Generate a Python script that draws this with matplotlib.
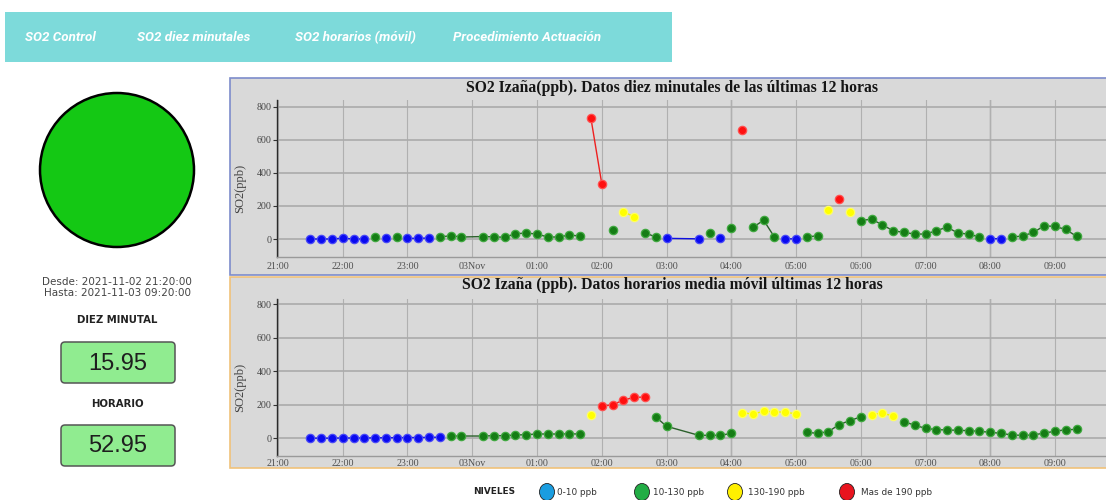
import numpy as np
import pandas as pd
import matplotlib
matplotlib.use("Agg")
import matplotlib.pyplot as plt
import matplotlib.dates as mdates
from matplotlib.patches import Rectangle, Circle, Ellipse, FancyBboxPatch
from matplotlib.ticker import FuncFormatter

plt.rcParams['font.family'] = ['Liberation Serif', 'DejaVu Serif']

# ---------------------------------------------------------------- data
nav_items = ["SO2 Control", "SO2 diez minutales", "SO2 horarios (móvil)", "Procedimiento Actuación"]
title_10min = "SO2 Izaña(ppb). Datos diez minutales de las últimas 12 horas"
title_hourly = "SO2 Izaña (ppb). Datos horarios media móvil últimas 12 horas"
period_from = "Desde: 2021-11-02 21:20:00"
period_to = "Hasta: 2021-11-03 09:20:00"

times = pd.date_range("2021-11-02 21:30", "2021-11-03 09:20", freq="10min")

# ten-minute SO2 (ppb); None = no record
so2_10min = [
    0, 0, 0, 5, 0, 0,              # 21:30 - 22:20
    11, 6, 11, 4, 4, 6,            # 22:30 - 23:20
    12, 20, 12, None, 15, 13,      # 23:30 - 00:20
    10.5, 32, 36, 30, 12, 12,      # 00:30 - 01:20
    24, 18, 730, 336, 52, 165,     # 01:30 - 02:20
    135, 38, 12, 4, None, None,    # 02:30 - 03:20
    1, 34, 4, 64, 660, 70,         # 03:30 - 04:20
    114, 12, 1, 1, 12, 20,         # 04:30 - 05:20
    176, 240, 162, 112, 120, 86,   # 05:30 - 06:20
    50, 40, 30, 30, 50, 72,        # 06:30 - 07:20
    36, 30, 12, 2, 2, 12,          # 07:30 - 08:20
    18, 40, 80, 76, 58, 15.95,     # 08:30 - 09:20
]

# hourly moving-average SO2 (ppb); None = no record
so2_hourly = [
    1, 1, 1, 2, 2, 2,              # 21:30 - 22:20
    3, 4, 4, 5, 5, 6,              # 22:30 - 23:20
    7, 14, 14, None, 14, 16,       # 23:30 - 00:20
    16, 20, 22, 26, 26, 26,        # 00:30 - 01:20
    27, 26, 140, 192, 200, 228,    # 01:30 - 02:20
    244, 246, 128, 72, None, None, # 02:30 - 03:20
    18, 18, 18, 30, 154, 144,      # 03:30 - 04:20
    162, 158, 156, 146, 36, 30,    # 04:30 - 05:20
    40, 82, 106, 128, 142, 150,    # 05:30 - 06:20
    133, 100, 78, 60, 52, 50,      # 06:30 - 07:20
    48, 46, 42, 36, 30, 20,        # 07:30 - 08:20
    18, 20, 32, 42, 52, 52.95,     # 08:30 - 09:20
]

level_bounds = [10, 130, 190]
level_labels = ["0-10 ppb", "10-130 ppb", "130-190 ppb", "Mas de 190 ppb"]
last_10min = "15.95"
last_hourly = "52.95"

# ---------------------------------------------------------------- styles
W, H = 1106, 500
dot_face = ["#0a0af0", "#157d15", "#ffff00", "#ff1010"]
dot_edge = ["#4848f8", "#40a840", "#ffff60", "#ff5050"]
line_col = ["#1010e0", "#2c602c", "#f0f000", "#ee2020"]
legend_face = ["#1a9de0", "#22ad45", "#fff000", "#e8141e"]
panel_gray = "#d9d9d9"

fig = plt.figure(figsize=(W / 100, H / 100), dpi=100)
fig.patch.set_facecolor("white")

def fx(x):
    return x / W

def fy(y):
    return 1 - y / H

# full-figure canvas in pixel units for the page furniture
bg = fig.add_axes([0, 0, 1, 1], zorder=0)
bg.set_xlim(0, W)
bg.set_ylim(H, 0)
bg.axis("off")

# navigation bar
bg.add_patch(Rectangle((5, 12), 667, 50, fc="#7ddada", ec="none"))
for label, x in zip(nav_items, [25, 137, 295, 453]):
    bg.text(x, 37.5, label, color="white", family="Roboto", weight="bold",
            style="italic", fontsize=9.6, ha="left", va="center")

# status light
bg.add_patch(Circle((117, 170), 77, fc="#14c814", ec="black", lw=1.8))
bg.text(117, 282, period_from, family="DejaVu Sans", fontsize=7.5, color="#444444",
        ha="center", va="center")
bg.text(117, 293.5, period_to, family="DejaVu Sans", fontsize=7.5, color="#444444",
        ha="center", va="center")
bg.text(117, 320, "DIEZ MINUTAL", family="DejaVu Sans", weight="bold", fontsize=7.3,
        color="#222222", ha="center", va="center")
bg.text(117, 404, "HORARIO", family="DejaVu Sans", weight="bold", fontsize=7.3,
        color="#222222", ha="center", va="center")
for y0, txt in [(342, last_10min), (425, last_hourly)]:
    bg.add_patch(FancyBboxPatch((61, y0), 114, 41, boxstyle="round,pad=0,rounding_size=4",
                                fc="#90ec90", ec="#555555", lw=1.1))
    bg.text(118, y0 + 21.5, txt, family="Liberation Sans", fontsize=17, color="#1e1e1e",
            ha="center", va="center")

# chart panels
bg.add_patch(Rectangle((229.5, 78), 900, 197, fc=panel_gray, ec="#7d8ccb", lw=1.2))
bg.add_patch(Rectangle((229.5, 276.5), 900, 191, fc=panel_gray, ec="#f0c27a", lw=1.2))

# level legend
bg.text(473, 492, "NIVELES", family="DejaVu Sans", weight="bold", fontsize=6.4,
        color="#222222", ha="left", va="center")
for cx, tx, fc, lab in zip([547, 642, 735, 847], [557, 653, 748, 861], legend_face, level_labels):
    bg.add_patch(Ellipse((cx, 492), 15, 17, fc=fc, ec="#222222", lw=0.6))
    bg.text(tx, 492.5, lab, family="DejaVu Sans", fontsize=6.4, color="#333333",
            ha="left", va="center")

# ---------------------------------------------------------------- charts
t0 = pd.Timestamp("2021-11-02 21:00")
px_per_hour = 64.75
x_left, x_right = 277, 1116

def hour_fmt(x, pos):
    d = mdates.num2date(x)
    return d.strftime("%d%b") if d.hour == 0 else d.strftime("%H:%M")

def draw_chart(values, title, top, bottom, ylim, title_y, label_pad):
    ax = fig.add_axes([fx(x_left), fy(bottom), (x_right - x_left) / W, (bottom - top) / H],
                      zorder=1)
    ax.set_facecolor("none")
    vals = np.array([np.nan if v is None else v for v in values], dtype=float)
    keep = ~np.isnan(vals)
    t = times[keep]
    v = vals[keep]
    lvl = np.digitize(v, level_bounds)
    for k in range(4):
        s = np.where(lvl == k, v, np.nan)
        ax.plot(t, s, "-", color=line_col[k], lw=1.0, zorder=3)
        ax.plot(t, s, "o", ms=6.0, mfc=dot_face[k], mec=dot_edge[k], mew=0.9, zorder=4)

    xl = t0 - pd.Timedelta(hours=(278 - x_left) / px_per_hour)
    xr = t0 + pd.Timedelta(hours=(x_right - 278) / px_per_hour)
    ax.set_xlim(xl, xr)
    ax.set_ylim(*ylim)
    ax.xaxis.set_major_locator(mdates.HourLocator())
    ax.xaxis.set_major_formatter(FuncFormatter(hour_fmt))
    ax.set_yticks([0, 200, 400, 600, 800])
    ax.grid(True, axis="x", color="#b0b0b0", lw=0.8, zorder=1)
    ax.grid(True, axis="y", color="#ababab", lw=1.2, zorder=1)
    for tk in ax.get_xticks():
        if mdates.num2date(tk).hour in (4, 8):
            ax.axvline(tk, color="#808080", lw=0.9, zorder=1)
    for side in ("top", "right"):
        ax.spines[side].set_visible(False)
    ax.spines["left"].set_color("#2a2a2a")
    ax.spines["left"].set_linewidth(1.0)
    ax.spines["bottom"].set_color("#9a9a9a")
    ax.spines["bottom"].set_linewidth(1.0)
    ax.tick_params(axis="x", length=0, pad=label_pad, labelsize=7.2, labelcolor="#505050")
    ax.tick_params(axis="y", length=3, width=0.8, color="#333333", pad=1,
                   labelsize=7.2, labelcolor="#454545")
    fig.text(fx(672), fy(title_y), title, ha="center", va="center", weight="bold",
             fontsize=11.3, color="#151515")
    fig.text(fx(240), fy((top + bottom) / 2 + 10), "SO2(ppb)", rotation=90, ha="center",
             va="center", fontsize=9, color="#444444")
    return ax

draw_chart(so2_10min, title_10min, 100, 257, (-109, 842), 88, 3.5)
draw_chart(so2_hourly, title_hourly, 299, 456, (-105, 830), 285, 2.5)

fig.savefig("out.png", dpi=100, facecolor="white")
